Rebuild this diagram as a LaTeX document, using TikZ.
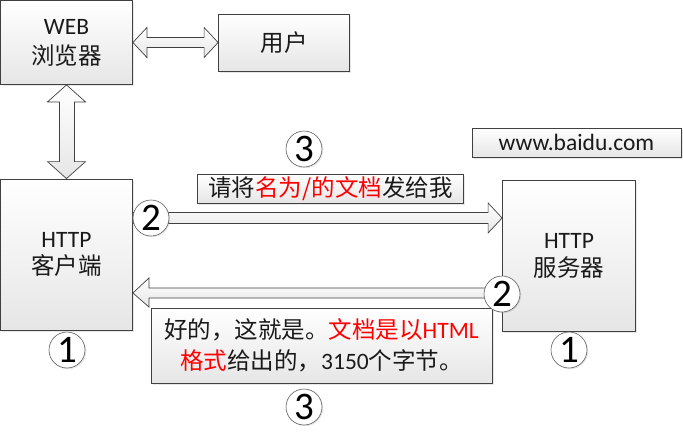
\documentclass[tikz,border=0pt]{standalone}
\usepackage{fontspec}
\setmainfont{Carlito}
\newfontfamily\cjk{Noto Sans CJK SC}
\usetikzlibrary{shadows,calc}
\definecolor{bordc}{HTML}{404040}
\definecolor{boxbot}{HTML}{E6E6E6}
\definecolor{txt}{HTML}{1A1A1A}
\definecolor{redt}{HTML}{FF0000}
\newcommand\myfs{\fontsize{23.5}{27}\selectfont}
\begin{document}
\begin{tikzpicture}[x=1pt,y=-1pt,
  box/.style={draw=bordc, line width=0.8pt, top color=white, bottom color=boxbot,
    inner sep=0pt, align=center, text=txt, font=\myfs,
    drop shadow={shadow xshift=1.5pt, shadow yshift=-1.5pt, opacity=0.18}},
  barrow/.style={draw=bordc, line width=0.7pt, top color=white, bottom color=boxbot, line join=miter},
  num/.style={circle, draw=bordc!85, line width=0.6pt, fill=white, minimum size=36pt,
    inner sep=0pt, font=\fontsize{39}{39}\selectfont, text=black,
    drop shadow={shadow xshift=1.2pt, shadow yshift=-1.2pt, opacity=0.2}}]
\useasboundingbox (0,0) rectangle (683,432);

% boxes
\node[box, minimum width=132pt, minimum height=84pt] (web) at (66.5,42.5) {WEB\\[3pt]{\cjk 浏览器}};
\node[box, minimum width=131pt, minimum height=57pt] (user) at (284,42.5) {\cjk 用户};
\node[box, minimum width=132pt, minimum height=151pt] (client) at (66.5,254.5) {HTTP\\[0pt]{\cjk 客户端}};
\node[box, minimum width=133pt, minimum height=151pt] (server) at (569,255.5) {HTTP\\[1pt]{\cjk 服务器}};
\node[box, minimum width=209pt, minimum height=29pt] (url) at (576.5,142.5) {www.baidu.com};
\node[box, minimum width=266pt, minimum height=29pt] (req) at (330.5,188.5)
  {\cjk 请将\textcolor{redt}{名为/的文档}发给我};
\node[box, minimum width=341pt, minimum height=75pt] (resp) at (321.5,345.5)
  {{\cjk 好的，这就是。\textcolor{redt}{文档是以}}\textcolor{redt}{HTML}\\[4pt]%
   {\cjk\textcolor{redt}{格式}给出的，}3150{\cjk 个字节。}};

% double arrow web <-> user
\coordinate (wa) at (web.east);
\coordinate (ua) at (user.west);
\draw[barrow] (wa) -- ($(wa)+(14,-15)$) -- ($(wa)+(14,-5)$) -- ($(ua)+(-14,-5)$)
  -- ($(ua)+(-14,-15)$) -- (ua) -- ($(ua)+(-14,15)$) -- ($(ua)+(-14,5)$)
  -- ($(wa)+(14,5)$) -- ($(wa)+(14,15)$) -- cycle;

% double arrow web <-> client
\coordinate (wb) at (web.south);
\coordinate (cb) at (client.north);
\draw[barrow] (wb) -- ($(wb)+(19,17)$) -- ($(wb)+(8,17)$) -- ($(cb)+(8,-17)$)
  -- ($(cb)+(19,-17)$) -- (cb) -- ($(cb)+(-19,-17)$) -- ($(cb)+(-7,-17)$)
  -- ($(wb)+(-7,17)$) -- ($(wb)+(-19,17)$) -- cycle;

% request arrow client -> server
\coordinate (rt) at (client.east |- 0,218);
\coordinate (rh) at (server.west |- 0,218);
\draw[barrow] ($(rt)+(0,-5.5)$) -- ($(rh)+(-14,-5.5)$) -- ($(rh)+(-14,-15)$) -- (rh)
  -- ($(rh)+(-14,15)$) -- ($(rh)+(-14,5.5)$) -- ($(rt)+(0,5.5)$) -- cycle;

% response arrow server -> client
\coordinate (st) at (server.west |- 0,293);
\coordinate (sh) at (client.east |- 0,293);
\draw[barrow] ($(st)+(0,-5)$) -- ($(sh)+(16,-5)$) -- ($(sh)+(16,-15)$) -- (sh)
  -- ($(sh)+(16,14)$) -- ($(sh)+(16,5)$) -- ($(st)+(0,5)$) -- cycle;

% circled numbers
\node[num] (n3a) at (304,149) {3};
\node[num] (n2a) at (151,218) {2};
\node[num] (n2b) at (502,294) {2};
\node[num] (n1a) at (67,350) {1};
\node[num] (n1b) at (569,350) {1};
\node[num] (n3b) at (304,407) {3};
\end{tikzpicture}
\end{document}
